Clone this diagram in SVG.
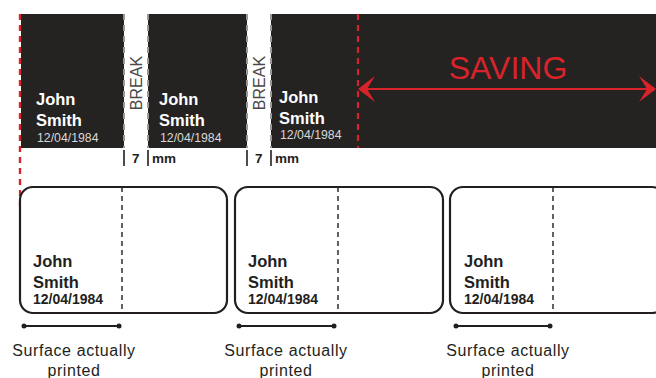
<svg xmlns="http://www.w3.org/2000/svg" width="656" height="378" viewBox="0 0 656 378">
<defs>
<style>
.blk{fill:#252322}
.edge{stroke:#9a9898;stroke-width:2;stroke-dasharray:6 5;fill:none}
.red{stroke:#d8232a;stroke-width:2;fill:none}
.reddash{stroke:#d8232a;stroke-width:2.2;stroke-dasharray:6 5;fill:none}
.nameW{font-family:"Liberation Sans",Arial,sans-serif;font-weight:bold;font-size:16.5px;fill:#ffffff}
.dateW{font-family:"Liberation Sans",Arial,sans-serif;font-size:12.3px;fill:#d8d8d8}
.brk{font-family:"Liberation Sans",Arial,sans-serif;font-size:16px;fill:#4a4848}
.mm{font-family:"Liberation Sans",Arial,sans-serif;font-weight:bold;font-size:13.5px;fill:#231f20}
.tick{stroke:#231f20;stroke-width:1.6}
.card{fill:#ffffff;stroke:#231f20;stroke-width:2.2}
.cut{stroke:#231f20;stroke-width:1.4;stroke-dasharray:5 4}
.nameB{font-family:"Liberation Sans",Arial,sans-serif;font-weight:bold;font-size:16.5px;fill:#231f20}
.dateB{font-family:"Liberation Sans",Arial,sans-serif;font-weight:bold;font-size:14px;fill:#231f20}
.dim{stroke:#231f20;stroke-width:2}
.dot{fill:#231f20}
.lbl{font-family:"Liberation Sans",Arial,sans-serif;font-size:16px;letter-spacing:0.6px;fill:#231f20;text-anchor:middle}
.sav{font-family:"Liberation Sans",Arial,sans-serif;font-size:32px;fill:#d8232a;text-anchor:middle}
</style>
</defs>

<g id="connectors-back">
<line class="reddash" x1="20" y1="14" x2="20" y2="212"/>
</g>

<g id="tape-label-1">
<rect class="blk" x="21" y="14" width="103" height="134"/>
<line class="edge" x1="124" y1="14" x2="124" y2="148"/>
<text class="nameW" x="36" y="105">John</text>
<text class="nameW" x="36" y="126">Smith</text>
<text class="dateW" x="37" y="142">12/04/1984</text>
</g>

<g id="break-1">
<text class="brk" transform="translate(142,83) rotate(-90)" text-anchor="middle">BREAK</text>
<line class="tick" x1="124" y1="150" x2="124" y2="166"/>
<line class="tick" x1="148" y1="150" x2="148" y2="166"/>
<text class="mm" x="132" y="163">7</text>
<text class="mm" x="152" y="163">mm</text>
</g>

<g id="tape-label-2">
<rect class="blk" x="148" y="14" width="99" height="134"/>
<line class="edge" x1="148" y1="14" x2="148" y2="148"/>
<line class="edge" x1="247" y1="14" x2="247" y2="148"/>
<text class="nameW" x="159" y="105">John</text>
<text class="nameW" x="159" y="126">Smith</text>
<text class="dateW" x="160" y="142">12/04/1984</text>
</g>

<g id="break-2">
<text class="brk" transform="translate(265,83) rotate(-90)" text-anchor="middle">BREAK</text>
<line class="tick" x1="247" y1="150" x2="247" y2="166"/>
<line class="tick" x1="271" y1="150" x2="271" y2="166"/>
<text class="mm" x="255" y="163">7</text>
<text class="mm" x="275" y="163">mm</text>
</g>

<g id="tape-label-3">
<rect class="blk" x="271" y="14" width="385" height="134"/>
<line class="edge" x1="271" y1="14" x2="271" y2="148"/>
<text class="nameW" x="279" y="103">John</text>
<text class="nameW" x="279" y="124">Smith</text>
<text class="dateW" x="280" y="139">12/04/1984</text>
</g>

<g id="saving">
<text class="sav" x="508" y="79">SAVING</text>
</g>

<g id="card-1">
<rect class="card" x="20" y="187" width="207" height="126" rx="13"/>
<line class="cut" x1="122" y1="187" x2="122" y2="313"/>
<text class="nameB" x="33" y="267">John</text>
<text class="nameB" x="33" y="288">Smith</text>
<text class="dateB" x="33" y="304">12/04/1984</text>
</g>

<g id="card-2">
<rect class="card" x="235" y="187" width="208" height="126" rx="13"/>
<line class="cut" x1="338" y1="187" x2="338" y2="313"/>
<text class="nameB" x="248" y="267">John</text>
<text class="nameB" x="248" y="288">Smith</text>
<text class="dateB" x="248" y="304">12/04/1984</text>
</g>

<g id="card-3">
<rect class="card" x="450" y="187" width="215" height="126" rx="13"/>
<line class="cut" x1="553" y1="187" x2="553" y2="313"/>
<text class="nameB" x="464" y="267">John</text>
<text class="nameB" x="464" y="288">Smith</text>
<text class="dateB" x="464" y="304">12/04/1984</text>
</g>

<g id="surface-1">
<text class="lbl" x="74" y="356">Surface actually</text>
<text class="lbl" x="74" y="376">printed</text>
</g>
<g id="surface-2">
<text class="lbl" x="286" y="356">Surface actually</text>
<text class="lbl" x="286" y="376">printed</text>
</g>
<g id="surface-3">
<text class="lbl" x="508" y="356">Surface actually</text>
<text class="lbl" x="508" y="376">printed</text>
</g>

<g id="connectors">
<line class="reddash" x1="20" y1="14" x2="20" y2="190"/>
<line class="reddash" x1="358" y1="14" x2="358" y2="148"/>
<line class="red" x1="362" y1="89" x2="652" y2="89"/>
<path d="M358,89 L375,76 L367,89 L375,102 Z" fill="#d8232a"/>
<path d="M656,89 L639,76 L647,89 L639,102 Z" fill="#d8232a"/>
<line class="dim" x1="24" y1="326" x2="119" y2="326"/>
<circle class="dot" cx="24" cy="326" r="2.5"/>
<circle class="dot" cx="119" cy="326" r="2.5"/>
<line class="dim" x1="239" y1="326" x2="334" y2="326"/>
<circle class="dot" cx="239" cy="326" r="2.5"/>
<circle class="dot" cx="334" cy="326" r="2.5"/>
<line class="dim" x1="456" y1="326" x2="550" y2="326"/>
<circle class="dot" cx="456" cy="326" r="2.5"/>
<circle class="dot" cx="550" cy="326" r="2.5"/>
</g>
</svg>
